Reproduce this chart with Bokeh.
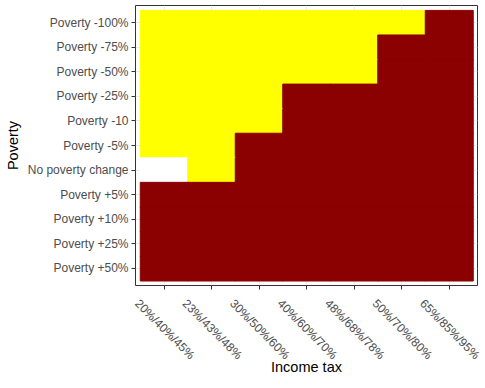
import math
from bokeh.plotting import figure
from bokeh.models import FactorRange, ColumnDataSource, Range1d, LinearAxis, FixedTicker
from bokeh.embed import file_html
from bokeh.resources import INLINE

income_tax = ["20%/40%/45%", "23%/43%/48%", "30%/50%/60%", "40%/60%/70%",
              "48%/68%/78%", "50%/70%/80%", "65%/85%/95%"]
poverty = ["Poverty -100%", "Poverty -75%", "Poverty -50%", "Poverty -25%",
           "Poverty -10", "Poverty -5%", "No poverty change", "Poverty +5%",
           "Poverty +10%", "Poverty +25%", "Poverty +50%"]
# outcome per poverty row (top to bottom), one entry per income tax column; None = no data
outcome = [
    ["yes", "yes", "yes", "yes", "yes", "yes", "no"],
    ["yes", "yes", "yes", "yes", "yes", "no", "no"],
    ["yes", "yes", "yes", "yes", "yes", "no", "no"],
    ["yes", "yes", "yes", "no", "no", "no", "no"],
    ["yes", "yes", "yes", "no", "no", "no", "no"],
    ["yes", "yes", "no", "no", "no", "no", "no"],
    [None, "yes", "no", "no", "no", "no", "no"],
    ["no", "no", "no", "no", "no", "no", "no"],
    ["no", "no", "no", "no", "no", "no", "no"],
    ["no", "no", "no", "no", "no", "no", "no"],
    ["no", "no", "no", "no", "no", "no", "no"],
]
palette = {"yes": "#FFFF00", "no": "#8B0000", None: "#FFFFFF"}

n = len(income_tax)
tax_pos = {t: i + 0.5 for i, t in enumerate(income_tax)}   # discrete x positions
label_pos = [tax_pos[t] for t in income_tax]

xs, ys, cols = [], [], []
for pv, row in zip(poverty, outcome):
    for tx, val in zip(income_tax, row):
        xs.append(tax_pos[tx])
        ys.append(pv)
        cols.append(palette[val])
src = ColumnDataSource(dict(x=xs, y=ys, c=cols))

W, H = 485, 388
BL, BR, BT, BB = 135, 8, 5, 103
PAD = 0.1

p = figure(
    x_range=Range1d(-PAD, n + PAD),
    y_range=FactorRange(*reversed(poverty), range_padding=2 * PAD, range_padding_units="absolute"),
    width=W, height=H,
    min_border_left=BL, min_border_bottom=BB, min_border_top=BT, min_border_right=BR,
    output_backend="svg", toolbar_location=None,
    y_axis_label="Poverty",
)
p.rect(x="x", y="y", width=1, height=1, fill_color="c", line_color="c",
       line_width=1, dilate=True, source=src)

p.background_fill_color = "white"
p.border_fill_color = "white"
p.outline_line_color = "#333333"
p.outline_line_width = 1

tick_ticker = FixedTicker(ticks=label_pos, minor_ticks=[])
p.xaxis.ticker = tick_ticker
p.xgrid.ticker = tick_ticker
p.grid.grid_line_color = "#EBEBEB"
p.grid.grid_line_width = 1

# rotated tick labels sit (nearly) centred under their ticks: a label-only axis on a shifted range
shift_px = 27
shift = shift_px * (n + 2 * PAD) / (W - BL - BR)
p.extra_x_ranges = {"labels": Range1d(start=-PAD + shift, end=n + PAD + shift)}
lab_axis = LinearAxis(
    x_range_name="labels",
    ticker=FixedTicker(ticks=label_pos, minor_ticks=[]),
    major_label_overrides={pos: lab for pos, lab in zip(label_pos, income_tax)},
    axis_label="Income tax",
)
p.add_layout(lab_axis, "below")

for ax in (p.xaxis[0], p.yaxis[0], lab_axis):
    ax.axis_line_color = None
    ax.major_tick_line_color = "#333333"
    ax.major_tick_out = 4
    ax.major_tick_in = 0
    ax.minor_tick_line_color = None
    ax.major_label_text_font = "Liberation Sans"
    ax.major_label_text_font_size = "12px"
    ax.major_label_text_color = "#4D4D4D"
    ax.axis_label_text_font = "Liberation Sans"
    ax.axis_label_text_font_size = "14.5px"
    ax.axis_label_text_font_style = "normal"
    ax.axis_label_text_color = "black"

main_x = p.xaxis[0]
main_x.major_label_overrides = {pos: "" for pos in label_pos}
main_x.major_label_text_font_size = "1px"
main_x.major_label_standoff = 0

lab_axis.major_tick_line_color = None
lab_axis.major_tick_out = 0
lab_axis.major_label_orientation = -math.pi / 4
lab_axis.major_label_standoff = 12
lab_axis.axis_label_standoff = -11

p.yaxis.major_label_standoff = 3
p.yaxis.axis_label_standoff = 4

open("out.html", "w").write(file_html(p, INLINE))
